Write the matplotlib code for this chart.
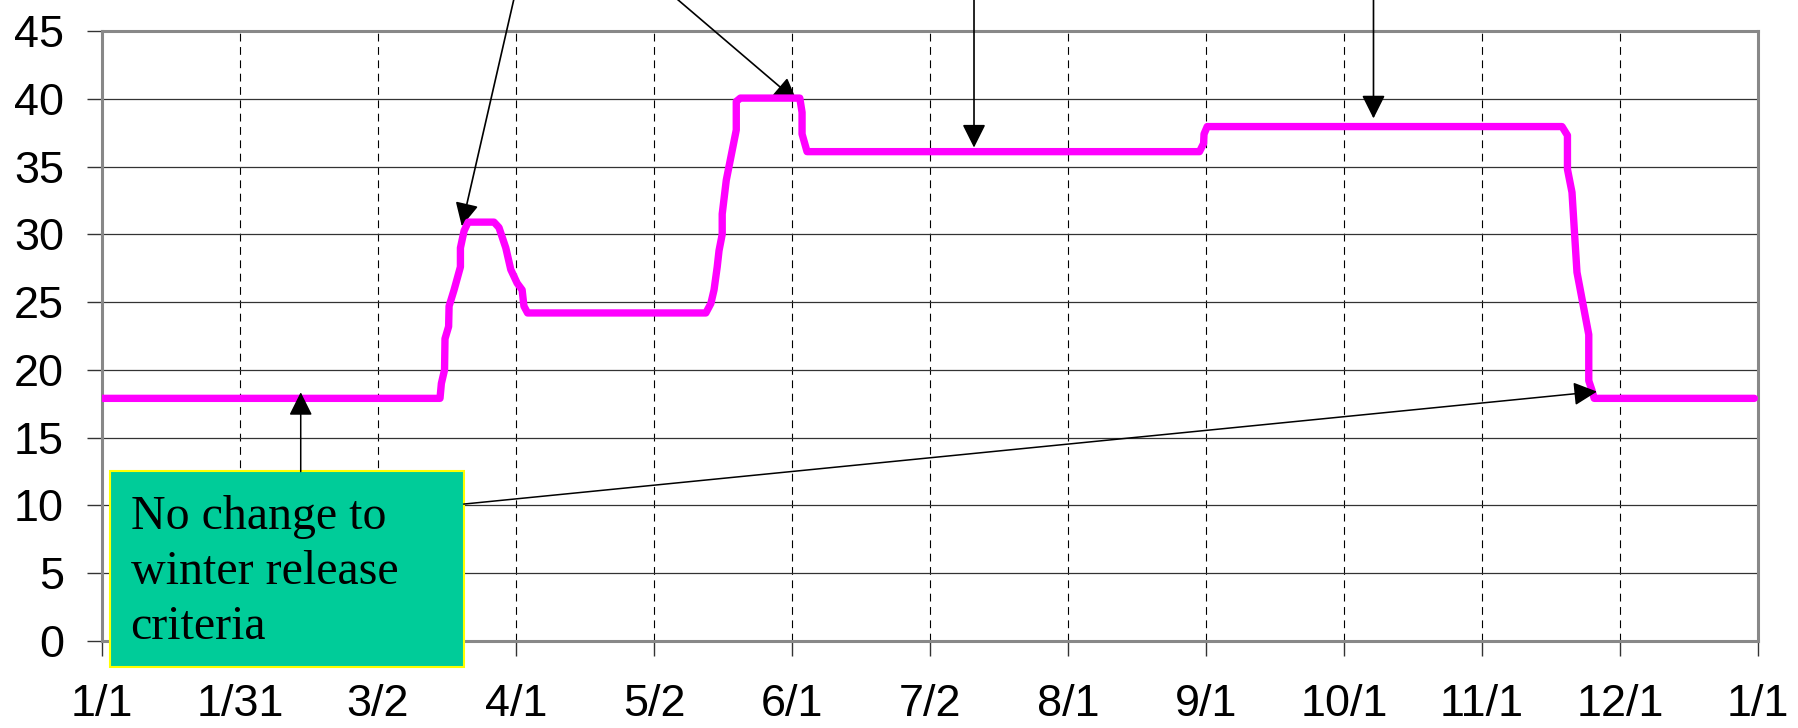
import numpy as np
import matplotlib
matplotlib.use('Agg')
import matplotlib.pyplot as plt
from matplotlib.patches import Rectangle

plt.rcParams['font.family'] = ['Liberation Sans', 'DejaVu Sans']

# Release criteria through the year (day of year, value)
days = [0, 74.5, 74.8, 75.5, 75.6, 76.4, 76.5, 77.6, 79.0, 79.0, 79.8,
        80.7, 86.4, 87.5, 89.0, 90.1, 91.5, 92.6, 93.0, 93.8, 133.1,
        134.2, 134.9, 135.6, 136.0, 136.7, 136.7, 137.6, 139.8, 139.8, 140.7,
        153.8, 154.3, 154.3, 155.4, 241.9, 242.8, 242.9, 243.6, 321.8, 323.0,
        323.0, 324.0, 325.1, 327.7, 327.7, 328.4, 328.9, 364.2]
values = [17.9, 17.9, 19.0, 20.0, 22.3, 23.2, 24.7, 25.9, 27.6, 29.0, 30.25,
          30.9, 30.9, 30.5, 29.0, 27.4, 26.4, 25.9, 24.7, 24.2, 24.2,
          24.9, 25.9, 27.6, 28.8, 30.0, 31.5, 34.0, 37.7, 39.8, 40.05,
          40.05, 39.0, 37.4, 36.1, 36.1, 36.7, 37.4, 37.95, 37.95, 37.3,
          34.8, 33.1, 27.2, 22.6, 19.2, 18.5, 17.9, 17.9]

tick_labels = ['1/1', '1/31', '3/2', '4/1', '5/2', '6/1', '7/2', '8/1',
               '9/1', '10/1', '11/1', '12/1', '1/1']
tick_days = [k * 365 / 12 for k in range(len(tick_labels))]

# arrows: (tip, tail) in data coords
top_arrows = [((79.3, 30.6), (92.6, 50.0)),
              ((153.2, 39.8), (117.5, 50.0)),
              ((192.2, 36.4), (192.2, 50.0)),
              ((280.25, 38.55), (280.25, 50.0))]
box_arrows = [((43.8, 18.35), (43.8, 12.5)),
              ((329.5, 18.4), (79.7, 10.1))]

box_text = 'No change to\nwinter release\ncriteria'

fig = plt.figure(figsize=(17.99, 7.28), dpi=100)
ax = fig.add_axes([102 / 1799, 1 - 641 / 728, 1656 / 1799, 610 / 728])

ax.plot(days, values, color='#FF00FF', lw=5.3, solid_capstyle='round',
        solid_joinstyle='round', zorder=4)

ax.set_xlim(0, 365)
ax.set_ylim(0, 45)
ax.set_xticks(tick_days)
ax.set_xticklabels(tick_labels)
ax.set_yticks(np.arange(0, 46, 5))
ax.tick_params(axis='both', labelsize=32.4, length=11, width=1, color='#333333')
ax.tick_params(axis='y', pad=16.5)
ax.tick_params(axis='x', pad=20)

ax.yaxis.grid(True, color='#333333', lw=0.9)
ax.xaxis.grid(True, color='black', lw=0.8, linestyle=(0, (7, 5)))
ax.set_axisbelow(True)
for s in ax.spines.values():
    s.set_color('#888888')
    s.set_linewidth(2.2)

for tip, tail in top_arrows:
    ax.annotate('', xy=tip, xytext=tail, annotation_clip=False,
                arrowprops=dict(arrowstyle='-|>,head_length=1.0,head_width=0.5',
                                mutation_scale=14.4, color='black', lw=1.2,
                                shrinkA=0, shrinkB=0))

rect = Rectangle((1.7, -1.9), 78.0, 14.45, facecolor='#00CC99',
                 edgecolor='#FFFF00', lw=1.5, clip_on=False, zorder=5)
ax.add_patch(rect)
ax.text(6.3, 5.1, box_text, fontsize=34.5, family=['Liberation Serif', 'DejaVu Serif'],
        va='center', ha='left', linespacing=1.32, zorder=6, clip_on=False)

for tip, tail in box_arrows:
    ax.annotate('', xy=tip, xytext=tail, annotation_clip=False, zorder=6,
                arrowprops=dict(arrowstyle='-|>,head_length=1.0,head_width=0.5',
                                mutation_scale=14.4, color='black', lw=1.1,
                                shrinkA=0, shrinkB=0))

fig.savefig('out.png', dpi=100)
